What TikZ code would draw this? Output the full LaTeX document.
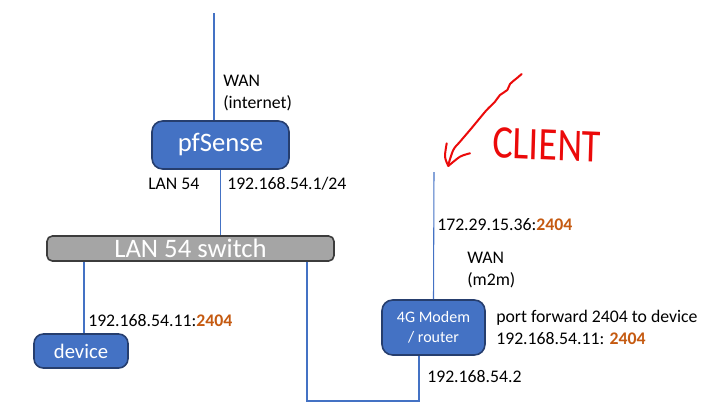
\documentclass[tikz,border=0pt]{standalone}
\usepackage{fontspec}
\setmainfont{Carlito}
\usetikzlibrary{positioning}
\definecolor{boxblue}{RGB}{68,114,196}
\definecolor{boxedge}{RGB}{38,62,110}
\definecolor{swgrey}{RGB}{165,165,165}
\definecolor{swedge}{RGB}{60,60,60}
\definecolor{portcol}{RGB}{197,90,17}
\definecolor{inkred}{RGB}{235,10,10}
\newcommand{\portno}[1]{\textcolor{portcol}{\bfseries #1}}
\tikzset{
  dev/.style={draw=boxedge,fill=boxblue,line width=1.2pt,rounded corners=7pt,
              text=white,inner sep=0pt,align=center},
  swbox/.style={draw=swedge,fill=swgrey,line width=1.2pt,rounded corners=4pt,
              text=white,inner sep=0pt},
  link/.style={draw=boxblue,line width=0.8pt},
  lbl/.style={anchor=base west,inner sep=0pt,font=\fontsize{13.3}{16}\selectfont},
  ink/.style={draw=inkred,line width=1.5pt,line cap=round,line join=round},
}
\begin{document}
\begin{tikzpicture}[x=0.75pt,y=-0.75pt]
  \useasboundingbox (0,0) rectangle (726,419);
  % boxes
  \node[dev,minimum width=102.75pt,minimum height=36pt,rounded corners=8pt,
        font=\fontsize{20}{24}\selectfont] (pfsense) at (220.5,145) {pfSense};
  \node[swbox,minimum width=215.25pt,minimum height=18.75pt,
        font=\fontsize{20}{24}\selectfont] (lansw) at (190.5,248.5) {LAN 54 switch};
  \node[dev,minimum width=70.5pt,minimum height=25.5pt,
        font=\fontsize{15.5}{18}\selectfont] (device) at (81,351) {device};
  \node[dev,minimum width=77.25pt,minimum height=41.25pt,rounded corners=8pt,
        font=\fontsize{12}{15}\selectfont] (modem) at (433.5,327.5) {4G Modem\\/ router};
  % free ends
  \coordinate (wantop) at (214,13);
  \coordinate (clienttop) at (434,172);
  \coordinate (lowleft) at (307,401);
  \coordinate (lowright) at (419,401);
  % links
  \draw[link] (wantop) -- (wantop |- pfsense.north);
  \draw[link] (pfsense.south) -- (pfsense.south |- lansw.north);
  \draw[link] ([xshift=2.25pt]device.north) -- ([xshift=2.25pt]device.north |- lansw.south);
  \draw[link] (lansw.south -| lowleft) -- (lowleft) -- (lowright) -- (lowright |- modem.south);
  \draw[link] (modem.north) -- (clienttop);
  % labels
  \node[lbl] (wan1) at (223,86) {WAN};
  \node[lbl] (wan1b) at (223,108) {(internet)};
  \node[lbl] (lanname) at (148,189) {LAN 54};
  \node[lbl] (lanip) at (227,189) {192.168.54.1/24};
  \node[lbl] (devip) at (88,326) {192.168.54.11:\portno{2404}};
  \node[lbl] (pubip) at (437,230) {172.29.15.36:\portno{2404}};
  \node[lbl] (wan2) at (467,263) {WAN};
  \node[lbl] (wan2b) at (467,285) {(m2m)};
  \node[lbl] (fwd1) at (496,322) {port forward 2404 to device};
  \node[lbl] (fwd2) at (496,344) {192.168.54.11: \portno{2404}};
  \node[lbl] (modemip) at (427,382) {192.168.54.2};
  % client scribble
  \draw[ink] plot[smooth,tension=0.6] coordinates {(521.7,74) (516.7,78.3) (510,84)
    (507.3,90) (500,95) (495,101.7) (486.7,110) (478.3,120) (470,130) (460,141.7)
    (453.3,150) (448.3,165)};
  \draw[ink] plot[smooth] coordinates {(446.7,143.3) (445,156.7) (448.3,166)};
  \draw[ink] plot[smooth] coordinates {(470,153.3) (460,156.7) (448.3,166)};
  \node[text=inkred,inner sep=0pt,xscale=0.82,rotate=-2,
        font=\fontsize{35}{40}\selectfont] (client) at (547,145) {CLIENT};
\end{tikzpicture}
\end{document}
